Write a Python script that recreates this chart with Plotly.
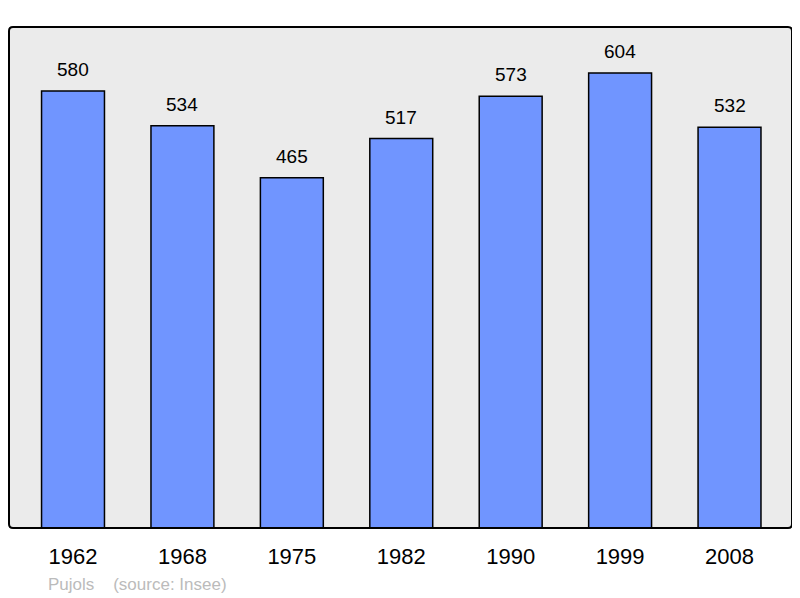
import plotly.graph_objects as go

years = ["1962", "1968", "1975", "1982", "1990", "1999", "2008"]
population = [580, 534, 465, 517, 573, 604, 532]
source_text = "Pujols    (source: Insee)"

fig = go.Figure()
fig.add_trace(go.Bar(
    x=list(range(len(years))), y=population,
    width=0.575,
    marker=dict(color="#7095ff", line=dict(color="#000000", width=1.5)),
    hoverinfo="skip",
))

for i, v in enumerate(population):
    fig.add_annotation(x=i, y=v, text=str(v), showarrow=False,
                       yanchor="bottom", yshift=9,
                       font=dict(size=19, color="#000000"))

fig.add_annotation(xref="paper", yref="paper", x=0.047, y=-0.089,
                   xanchor="left", yanchor="top", text=source_text,
                   showarrow=False, font=dict(size=17, color="#bbbbbb"))

# rounded border around plot area
W, H = 783.0, 501.0
rx, ry = 4 / W, 4 / H
path = (f"M {rx},0 L {1-rx},0 Q 1,0 1,{ry} L 1,{1-ry} Q 1,1 {1-rx},1 "
        f"L {rx},1 Q 0,1 0,{1-ry} L 0,{ry} Q 0,0 {rx},0 Z")
fig.add_shape(type="path", xref="paper", yref="paper", path=path,
              line=dict(color="#000000", width=2), layer="above")

fig.update_layout(
    width=792, height=590,
    margin=dict(l=1, r=8, t=19, b=70),
    paper_bgcolor="#ffffff", plot_bgcolor="#ebebeb",
    font=dict(family="Liberation Sans, Arial, sans-serif"),
    showlegend=False,
    xaxis=dict(range=[-0.585, 6.571], tickmode="array",
               tickvals=list(range(len(years))), ticktext=years,
               tickfont=dict(size=22, color="#000000"), showgrid=False,
               zeroline=False, ticks="", ticklabelstandoff=13),
    yaxis=dict(range=[0, 665], showgrid=False, zeroline=False,
               showticklabels=False, ticks=""),
)

fig.write_html("out.html")
